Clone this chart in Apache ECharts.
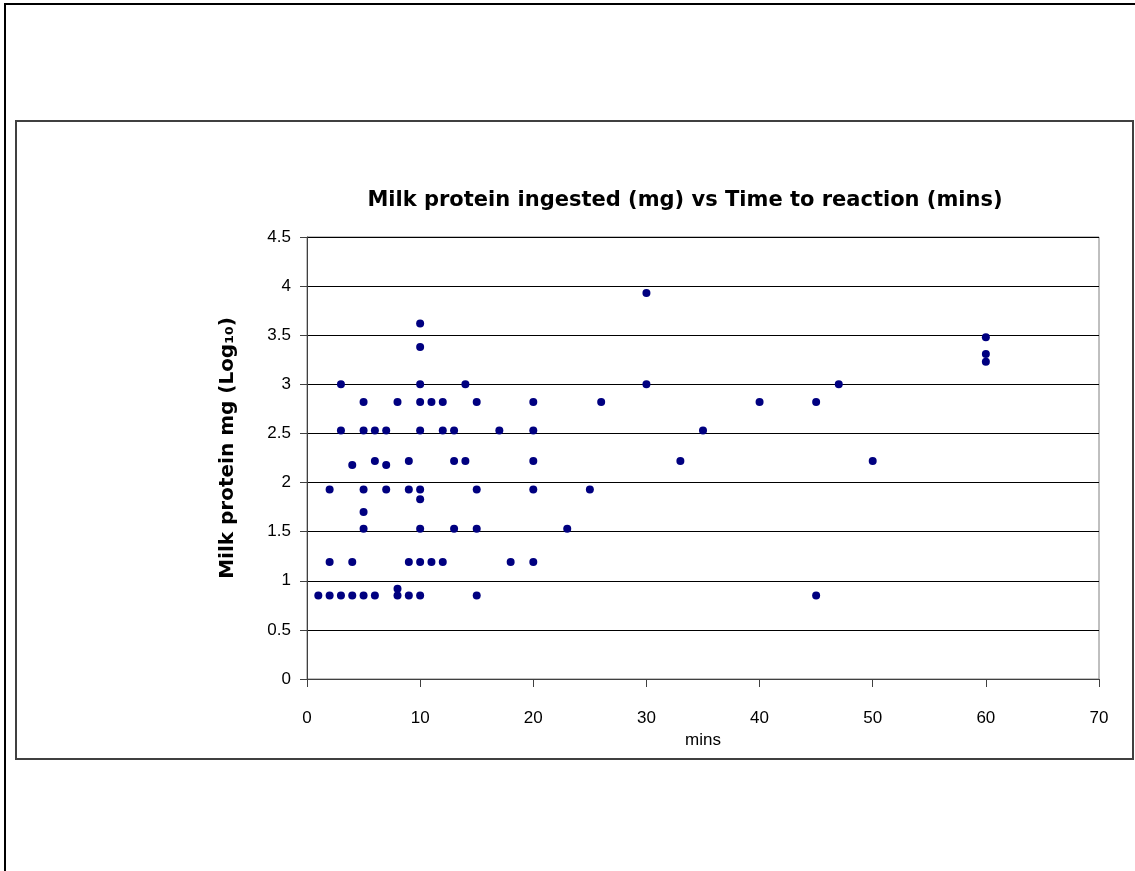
<!DOCTYPE html>
<html>
<head>
<meta charset="utf-8">
<script src="https://cdn.jsdelivr.net/npm/echarts@6/dist/echarts.min.js"></script>
<style>
  html, body { margin: 0; padding: 0; background: #fff; }
  #chart { width: 1135px; height: 871px; }
</style>
</head>
<body>
<div id="chart"></div>
<script>
// time to reaction (mins) and matching milk protein (log10 mg), point by point
const mins = [
  1,
  2, 2, 2,
  3, 3, 3,
  4, 4, 4,
  5, 5, 5, 5, 5, 5,
  6, 6, 6,
  7, 7, 7,
  8, 8, 8,
  9, 9, 9, 9,
  10, 10, 10, 10, 10, 10, 10, 10, 10, 10,
  11, 11,
  12, 12, 12,
  13, 13, 13,
  14, 14,
  15, 15, 15, 15,
  17, 18,
  20, 20, 20, 20, 20,
  23, 25, 26,
  30, 30,
  33, 35, 40,
  45, 45,
  47, 50,
  60, 60, 60
]
const proteinLog = [
  0.85,
  0.85, 1.19, 1.93,
  0.85, 2.53, 3.0,
  0.85, 1.19, 2.18,
  0.85, 1.53, 1.70, 1.93, 2.53, 2.82,
  0.85, 2.22, 2.53,
  1.93, 2.18, 2.53,
  0.85, 0.92, 2.82,
  0.85, 1.19, 1.93, 2.22,
  0.85, 1.19, 1.53, 1.83, 1.93, 2.53, 2.82, 3.0, 3.38, 3.62,
  1.19, 2.82,
  1.19, 2.53, 2.82,
  1.53, 2.22, 2.53,
  2.22, 3.0,
  0.85, 1.53, 1.93, 2.82,
  2.53, 1.19,
  1.19, 1.93, 2.22, 2.53, 2.82,
  1.53, 1.93, 2.82,
  3.0, 3.93,
  2.22, 2.53, 2.82,
  0.85, 2.82,
  3.0, 2.22,
  3.23, 3.31, 3.48
]

const points = mins.map((m, i) => [m, proteinLog[i]])

const font = 'Liberation Sans, Arial, sans-serif'
// the source titles are set wide, DejaVu gets close to that width
const wideFont = 'DejaVu Sans, Verdana, sans-serif'
const chart = echarts.init(document.getElementById('chart'))

chart.setOption({
  backgroundColor: '#fff',
  animation: false,
  graphic: [
    // outer frame (runs off the right/bottom edge)
    { type: 'rect', shape: { x: 5, y: 4, width: 1200, height: 1000 },
      style: { fill: 'none', stroke: '#000', lineWidth: 2 } },
    // chart area frame
    { type: 'rect', shape: { x: 16, y: 121, width: 1117, height: 638 },
      style: { fill: 'none', stroke: '#404040', lineWidth: 2 } }
  ],
  title: {
    text: 'Milk protein ingested (mg) vs Time to reaction (mins)',
    left: 680,
    top: 185,
    textAlign: 'center',
    textStyle: { fontFamily: wideFont, fontSize: 21, fontWeight: 'bold', color: '#000' }
  },
  grid: { left: 307, right: 36, top: 237, bottom: 192, show: true, borderColor: '#808080', borderWidth: 1 },
  xAxis: {
    type: 'value',
    min: 0,
    max: 70,
    interval: 10,
    name: 'mins',
    nameLocation: 'middle',
    nameGap: 53,
    nameTextStyle: { fontFamily: font, fontSize: 17, color: '#000' },
    axisLine: { lineStyle: { color: '#404040', width: 1 } },
    axisTick: { length: 8, inside: false, lineStyle: { color: '#404040' } },
    axisLabel: { margin: 31, fontFamily: font, fontSize: 17, color: '#000' },
    splitLine: { show: false }
  },
  yAxis: {
    type: 'value',
    min: 0,
    max: 4.5,
    interval: 0.5,
    name: 'Milk protein mg (Log₁₀)',
    nameLocation: 'middle',
    nameRotate: 90,
    nameGap: 69,
    nameTextStyle: { fontFamily: wideFont, fontSize: 20, fontWeight: 'bold', color: '#000', padding: [0, 0, 0, 20] },
    axisLine: { show: true, lineStyle: { color: '#404040', width: 1 } },
    axisTick: { show: true, length: 7, lineStyle: { color: '#404040' } },
    axisLabel: { margin: 16, fontFamily: font, fontSize: 17, color: '#000' },
    splitLine: { show: true, lineStyle: { color: '#000', width: 1 } }
  },
  series: [{
    type: 'scatter',
    data: points,
    symbol: 'circle',
    symbolSize: 8,
    itemStyle: { color: '#000080', opacity: 1 }
  }]
})
</script>
</body>
</html>
